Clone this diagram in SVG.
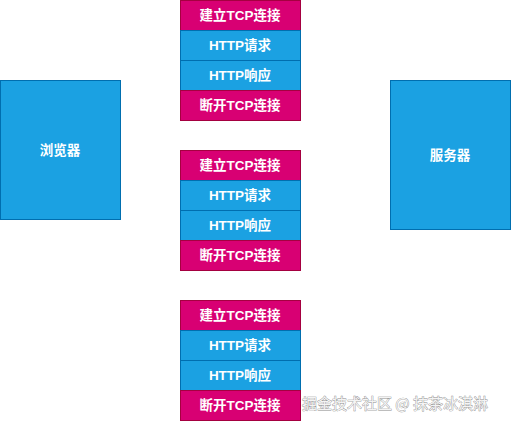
<svg xmlns="http://www.w3.org/2000/svg" width="511" height="422" viewBox="0 0 511 422">
<style>
.m{fill:#d80073;stroke:#a50040;stroke-width:1}
.b{fill:#1ba1e2;stroke:#006eaf;stroke-width:1}
.t{font-family:"Liberation Sans","Noto Sans CJK SC",sans-serif;font-size:13.5px;font-weight:bold;fill:#ffffff;text-anchor:middle;dominant-baseline:central}
.w{font-family:"Noto Sans CJK SC",sans-serif;font-size:15px;fill:#f4f4f4;stroke:#8a8a8a;stroke-width:0.7;paint-order:stroke}
</style>
<rect width="511" height="422" fill="#ffffff"/>
<g id="browser"><rect class="b" x="0.5" y="80.5" width="120" height="139"/><text class="t" x="60" y="150">浏览器</text></g>
<g id="server"><rect class="b" x="390.5" y="80.5" width="120" height="149"/><text class="t" x="450" y="155">服务器</text></g>
<g id="stack1">
<rect class="m" x="180.5" y="0.5" width="120" height="30"/><text class="t" x="240" y="15">建立TCP连接</text>
<rect class="b" x="180.5" y="30.5" width="120" height="30"/><text class="t" x="240" y="45">HTTP请求</text>
<rect class="b" x="180.5" y="60.5" width="120" height="30"/><text class="t" x="240" y="75">HTTP响应</text>
<rect class="m" x="180.5" y="90.5" width="120" height="30"/><text class="t" x="240" y="105">断开TCP连接</text>
</g>
<g id="stack2">
<rect class="m" x="180.5" y="150.5" width="120" height="30"/><text class="t" x="240" y="165">建立TCP连接</text>
<rect class="b" x="180.5" y="180.5" width="120" height="30"/><text class="t" x="240" y="195">HTTP请求</text>
<rect class="b" x="180.5" y="210.5" width="120" height="30"/><text class="t" x="240" y="225">HTTP响应</text>
<rect class="m" x="180.5" y="240.5" width="120" height="30"/><text class="t" x="240" y="255">断开TCP连接</text>
</g>
<g id="stack3">
<rect class="m" x="180.5" y="300.5" width="120" height="30"/><text class="t" x="240" y="315">建立TCP连接</text>
<rect class="b" x="180.5" y="330.5" width="120" height="30"/><text class="t" x="240" y="345">HTTP请求</text>
<rect class="b" x="180.5" y="360.5" width="120" height="30"/><text class="t" x="240" y="375">HTTP响应</text>
<rect class="m" x="180.5" y="390.5" width="120" height="30"/><text class="t" x="240" y="405">断开TCP连接</text>
</g>
<g id="connectors"></g>
<text class="w" x="302" y="409">掘金技术社区 @ 抹茶冰淇淋</text>
</svg>
